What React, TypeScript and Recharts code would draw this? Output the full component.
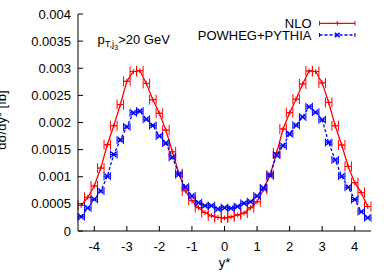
import { ComposedChart, Line, Scatter, XAxis, YAxis, ErrorBar } from "recharts";

// bin centres in y* (bin width 0.2)
const ystar = [
  -4.4, -4.2, -4.0, -3.8, -3.6, -3.4, -3.2, -3.0, -2.8, -2.6, -2.4, -2.2, -2.0,
  -1.8, -1.6, -1.4, -1.2, -1.0, -0.8, -0.6, -0.4, -0.2, 0.0, 0.2, 0.4, 0.6, 0.8,
  1.0, 1.2, 1.4, 1.6, 1.8, 2.0, 2.2, 2.4, 2.6, 2.8, 3.0, 3.2, 3.4, 3.6, 3.8, 4.0,
  4.2, 4.4,
];

const nlo = [
  0.00047, 0.00062, 0.00083, 0.00116, 0.00159, 0.00194, 0.00233, 0.00276,
  0.00294, 0.002955, 0.00272, 0.00242, 0.00217, 0.00186, 0.00146, 0.00106,
  0.00074, 0.00056, 0.00043, 0.00034, 0.00028, 0.00025, 0.00024, 0.00026,
  0.000295, 0.00033, 0.00043, 0.00054, 0.00077, 0.00103, 0.00144, 0.00188,
  0.00218, 0.00243, 0.00271, 0.00295, 0.00294, 0.00273, 0.00237, 0.00194,
  0.001585, 0.00119, 0.00089, 0.00071, 0.00045,
];

const powheg = [
  0.000264, 0.000424, 0.000584, 0.000737, 0.00101, 0.00141, 0.00168, 0.00192,
  0.00218, 0.00221, 0.00206, 0.001945, 0.00175, 0.00162, 0.00136, 0.001045,
  0.00081, 0.000645, 0.00052, 0.000466, 0.000466, 0.000405, 0.00043, 0.000418,
  0.00045, 0.00051, 0.00054, 0.000645, 0.00079, 0.00103, 0.0014, 0.00157,
  0.00179, 0.00195, 0.0021, 0.00229, 0.00219, 0.00205, 0.00163, 0.00131,
  0.00101, 0.000805, 0.00058, 0.000356, 0.000245,
];

const binHalfWidth = 0.1;

const xTicks = [-4, -3, -2, -1, 0, 1, 2, 3, 4];
const yTicks = [0, 0.0005, 0.001, 0.0015, 0.002, 0.0025, 0.003, 0.0035, 0.004];

const data = ystar.map((y, i) => ({
  y,
  nlo: nlo[i],
  powheg: powheg[i],
  ex: binHalfWidth,
}));

const FONT = "'Liberation Sans', Arial, Helvetica, sans-serif";
const RED = "#ff0000";
const BLUE = "#0000ff";
const TICK = 5;

// ── gnuplot-style inward ticks ────────────────────────────────────────────────
const BottomTick = ({ x, y, payload }: any) => (
  <g>
    <line x1={x} x2={x} y1={y} y2={y - TICK} stroke="#000" />
    <text x={x} y={y + 20} textAnchor="middle" fontSize={13} fontFamily={FONT} fill="#000">
      {payload.value}
    </text>
  </g>
);
const TopTick = ({ x, y }: any) => (
  <line x1={x} x2={x} y1={y} y2={y + TICK} stroke="#000" />
);
const LeftTick = ({ x, y, payload }: any) => (
  <g>
    <line x1={x} x2={x + TICK} y1={y} y2={y} stroke="#000" />
    <text x={x - 7} y={y + 4.5} textAnchor="end" fontSize={13} fontFamily={FONT} fill="#000">
      {payload.value}
    </text>
  </g>
);
const RightTick = ({ x, y }: any) => (
  <line x1={x - TICK} x2={x} y1={y} y2={y} stroke="#000" />
);

// point markers
const PlusShape = ({ cx, cy }: any) => (
  <path
    d={`M${cx - 2.5},${cy}H${cx + 2.5}M${cx},${cy - 2.5}V${cy + 2.5}`}
    stroke={RED}
    strokeWidth={1}
  />
);
const CrossShape = ({ cx, cy }: any) => (
  <path
    d={`M${cx - 2.5},${cy - 2.5}L${cx + 2.5},${cy + 2.5}M${cx - 2.5},${cy + 2.5}L${cx + 2.5},${cy - 2.5}`}
    stroke={BLUE}
    strokeWidth={1.5}
  />
);

export default function App() {
  return (
    <div style={{ position: "absolute", left: 0, top: 0, width: 390, height: 273 }}>
      <ComposedChart
        width={390}
        height={273}
        data={data}
        margin={{ top: 14, right: 19, bottom: 0, left: 0 }}
      >
        <XAxis
          dataKey="y"
          type="number"
          domain={[-4.5, 4.5]}
          ticks={xTicks}
          allowDataOverflow
          height={42}
          tickSize={0}
          tickMargin={0}
          tickLine={false}
          axisLine={{ stroke: "#000" }}
          tick={<BottomTick />}
        />
        <XAxis
          xAxisId="top"
          dataKey="y"
          type="number"
          orientation="top"
          domain={[-4.5, 4.5]}
          ticks={xTicks}
          allowDataOverflow
          height={0}
          tickSize={0}
          tickMargin={0}
          tickLine={false}
          axisLine={{ stroke: "#000" }}
          tick={<TopTick />}
        />
        <YAxis
          type="number"
          domain={[0, 0.004]}
          ticks={yTicks}
          width={78}
          tickSize={0}
          tickMargin={0}
          tickLine={false}
          axisLine={{ stroke: "#000" }}
          tick={<LeftTick />}
        />
        <YAxis
          yAxisId="r"
          orientation="right"
          type="number"
          domain={[0, 0.004]}
          ticks={yTicks}
          width={0}
          tickSize={0}
          tickMargin={0}
          tickLine={false}
          axisLine={{ stroke: "#000" }}
          tick={<RightTick />}
        />
        <Line
          dataKey="nlo"
          type="linear"
          stroke={RED}
          strokeWidth={1.3}
          dot={false}
          activeDot={false}
          isAnimationActive={false}
        />
        <Scatter dataKey="nlo" shape={<PlusShape />} isAnimationActive={false}>
          <ErrorBar dataKey="ex" direction="x" width={5} stroke={RED} strokeWidth={1} />
        </Scatter>
        <Line
          dataKey="powheg"
          type="linear"
          stroke={BLUE}
          strokeWidth={1.3}
          strokeDasharray="3 2"
          dot={false}
          activeDot={false}
          isAnimationActive={false}
        />
        <Scatter dataKey="powheg" shape={<CrossShape />} isAnimationActive={false}>
          <ErrorBar dataKey="ex" direction="x" width={4} stroke={BLUE} strokeWidth={1} />
        </Scatter>
      </ComposedChart>

      {/* labels, annotation and key */}
      <svg
        width={390}
        height={273}
        style={{ position: "absolute", left: 0, top: 0, pointerEvents: "none" }}
        fontFamily={FONT}
        fontSize={13}
      >
        <text x={5.5} y={120} textAnchor="middle" transform="rotate(-90 5.5 120)">
          dσ/dy* [fb]
        </text>
        <text x={224.5} y={267} textAnchor="middle">
          y*
        </text>
        <text x={97.5} y={43.5}>
          p
          <tspan fontSize={9.5} dy={3}>T,j</tspan>
          <tspan fontSize={7} dy={3}>3</tspan>
          <tspan fontSize={13} dy={-6}>&gt;20 GeV</tspan>
        </text>

        <text x={311.5} y={27.8} textAnchor="end">NLO</text>
        <g stroke={RED} strokeWidth={1.3}>
          <line x1={319.5} x2={355} y1={23.3} y2={23.3} />
          <line x1={319.5} x2={319.5} y1={21} y2={25.6} strokeWidth={1} />
          <line x1={355} x2={355} y1={21} y2={25.6} strokeWidth={1} />
          <path d="M334.8,23.3H339.8M337.3,21V25.6" strokeWidth={1} />
        </g>

        <text x={311.5} y={39.5} textAnchor="end">POWHEG+PYTHIA</text>
        <g stroke={BLUE} strokeWidth={1.3}>
          <line x1={319.5} x2={355} y1={35} y2={35} strokeDasharray="3 2" />
          <line x1={319.5} x2={319.5} y1={33} y2={37} strokeWidth={1} />
          <line x1={355} x2={355} y1={33} y2={37} strokeWidth={1} />
          <path d="M335,32.7L339.6,37.3M335,37.3L339.6,32.7" strokeWidth={1.5} />
        </g>
      </svg>
    </div>
  );
}
